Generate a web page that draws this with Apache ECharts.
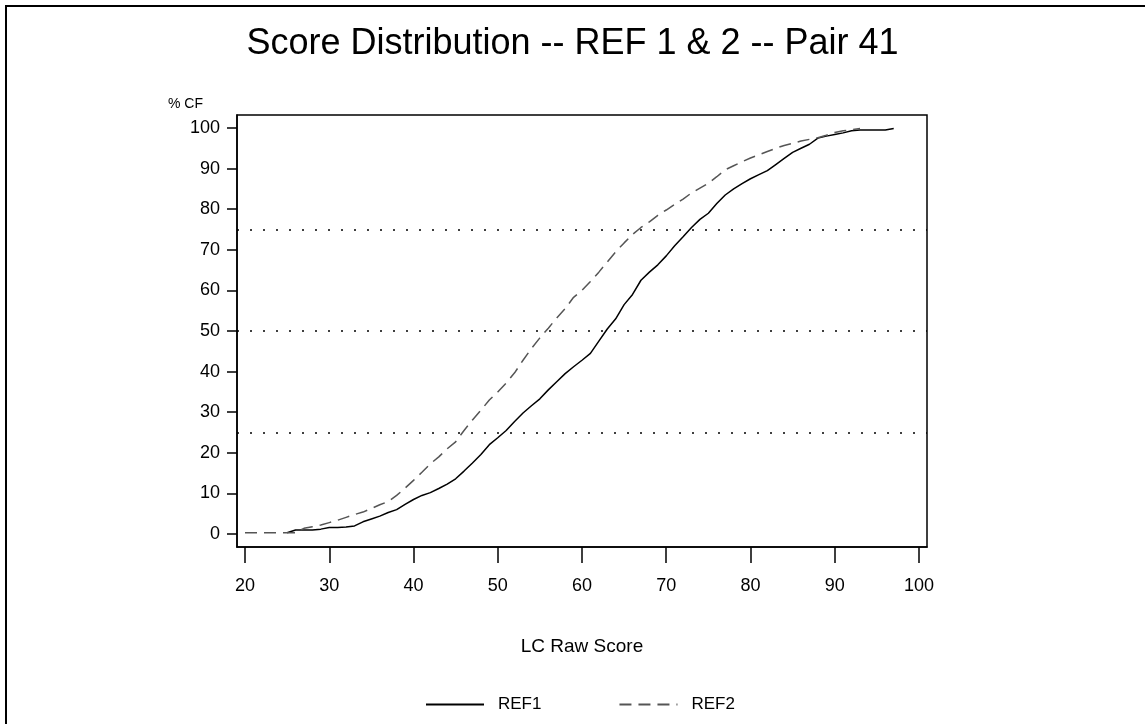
<!DOCTYPE html>
<html>
<head>
<meta charset="utf-8">
<script src="https://cdn.jsdelivr.net/npm/echarts@6/dist/echarts.min.js"></script>
<style>
html,body{margin:0;padding:0;background:#fff;}
#chart{width:1145px;height:724px;}
</style>
</head>
<body>
<div id="chart"></div>
<script>
// ---- data ----
const ref1Scores = [25,26,27,28,29,30,31,32,33,34,35,36,37,38,39,40,41,42,43,44,45,46,47,48,49,50,51,52,53,54,55,56,57,58,59,60,61,62,63,64,65,66,67,68,69,70,71,72,73,74,75,76,77,78,79,80,81,82,83,84,85,86,87,88,89,90,91,92,93,94,95,96,97];
const ref1Pct = [0.3,1.0,1.0,1.0,1.2,1.6,1.6,1.7,2.0,3.0,3.7,4.4,5.3,6.0,7.3,8.5,9.5,10.2,11.2,12.3,13.6,15.5,17.5,19.6,22.0,23.7,25.5,27.7,29.8,31.6,33.3,35.5,37.5,39.5,41.2,42.8,44.5,47.5,50.5,53.0,56.5,59.0,62.5,64.5,66.3,68.5,71.0,73.2,75.5,77.5,79.0,81.4,83.5,85.0,86.3,87.5,88.5,89.5,91.0,92.5,94.0,95.0,96.0,97.5,98.0,98.4,98.8,99.3,99.5,99.5,99.5,99.5,99.9];
const ref2Scores = [20,21,22,23,24,25,26,27,28,29,30,31,32,33,34,35,36,37,38,39,40,41,42,43,44,45,46,47,48,49,50,51,52,53,54,55,56,57,58,59,60,61,62,63,64,65,66,67,68,69,70,71,72,73,74,75,76,77,78,79,80,81,82,83,84,85,86,87,88,89,90,91,92,93];
const ref2Pct = [0.3,0.3,0.3,0.3,0.3,0.3,0.3,1.4,1.8,2.2,2.8,3.4,4.1,4.8,5.4,6.3,7.2,8.0,9.5,11.3,13.2,15.2,17.3,19.0,21.0,22.7,25.5,28.1,30.5,33.0,35.0,37.2,39.7,42.8,45.7,48.3,50.7,53.2,55.5,58.3,60.0,62.2,64.5,67.0,69.5,71.7,73.8,75.5,76.9,78.5,79.8,81.2,82.5,84.0,85.2,86.4,88.0,89.7,90.7,91.7,92.6,93.4,94.2,95.0,95.7,96.2,96.8,97.2,97.6,98.2,98.9,99.3,99.6,99.9];
const xTicks = [20,30,40,50,60,70,80,90,100];
const yTicks = [0,10,20,30,40,50,60,70,80,90,100];
const refLines = [25,50,75];
const seriesNames = ['REF1','REF2'];
const titleText = 'Score Distribution -- REF 1 & 2 -- Pair 41';
const xName = 'LC Raw Score';
const yName = '% CF';

const font = '"Liberation Sans", Arial, sans-serif';
const chart = echarts.init(document.getElementById('chart'), null, {renderer:'canvas'});
const zip = (a,b) => a.map((v,i)=>[v,b[i]]);

chart.setOption({
  animation:false,
  backgroundColor:'#fff',
  title:{text:titleText,left:'center',top:21,textStyle:{fontFamily:font,fontSize:36,fontWeight:'normal',color:'#000'}},
  grid:{left:237,top:115,right:218,bottom:177,show:true,borderColor:'#000',borderWidth:1.5,containLabel:false},
  graphic:[
    {type:'rect',shape:{x:6,y:6,width:1300,height:900},style:{fill:'none',stroke:'#000',lineWidth:2},silent:true},
    {type:'text',left:168,top:97,style:{text:yName,font:'14px '+font,fill:'#000'}}
  ],
  legend:{
    data:seriesNames,bottom:6,left:420,itemWidth:58,itemHeight:14,itemGap:77,
    itemStyle:{opacity:0},
    textStyle:{fontFamily:font,fontSize:17,color:'#000',padding:[0,0,0,9]}
  },
  xAxis:{
    type:'value',min:19.05,max:100.95,
    name:xName,nameLocation:'middle',nameGap:90,
    nameTextStyle:{fontFamily:font,fontSize:19,color:'#000'},
    axisLine:{show:true,onZero:false,lineStyle:{color:'#000',width:1.5}},
    axisTick:{show:true,customValues:xTicks,length:16,inside:false,lineStyle:{color:'#000',width:1.5}},
    axisLabel:{customValues:xTicks,margin:30,fontFamily:font,fontSize:18,color:'#000'},
    splitLine:{show:false}
  },
  yAxis:{
    type:'value',min:-3.2,max:103.2,
    axisLine:{show:true,onZero:false,lineStyle:{color:'#000',width:1.5}},
    axisTick:{show:true,customValues:yTicks,length:10,lineStyle:{color:'#000',width:1.5}},
    axisLabel:{customValues:yTicks,margin:17,fontFamily:font,fontSize:18,color:'#000'},
    splitLine:{show:false}
  },
  series:[
    {name:seriesNames[0],type:'line',data:zip(ref1Scores,ref1Pct),symbol:'none',
     lineStyle:{color:'#000',width:1.5,type:'solid'},itemStyle:{color:'#000'},
     markLine:{silent:true,symbol:'none',label:{show:false},
       lineStyle:{color:'#000',width:1.5,type:[2,11]},
       data:refLines.map(v=>({yAxis:v}))}},
    {name:seriesNames[1],type:'line',data:zip(ref2Scores,ref2Pct),symbol:'none',
     lineStyle:{color:'#555',width:1.5,type:[12,7]},itemStyle:{color:'#555'}}
  ]
});
</script>
</body>
</html>
